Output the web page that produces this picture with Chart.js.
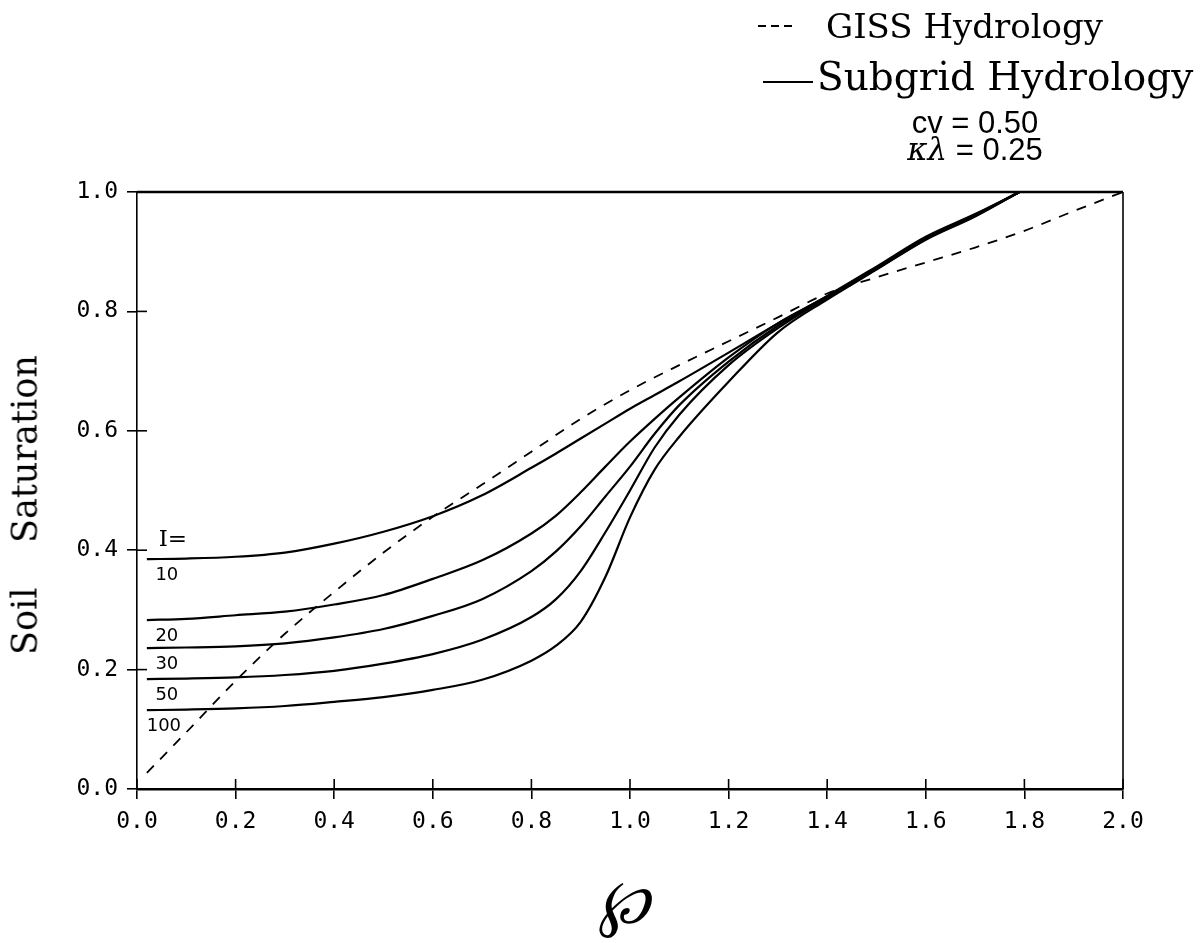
<!DOCTYPE html>
<html>
<head>
<meta charset="utf-8">
<script src="https://cdn.jsdelivr.net/npm/chart.js@4.4.1/dist/chart.umd.min.js"></script>
<style>
  html, body { margin: 0; padding: 0; background: #fff; }
  #wrap { position: relative; width: 1201px; height: 943px; overflow: hidden; }
  #chart { position: absolute; left: 0; top: 0; }
  .txt { position: absolute; color: #000; white-space: pre; line-height: 1; }
  .serif { font-family: "DejaVu Serif", serif; }
  .sans { font-family: "Liberation Sans", Arial, sans-serif; }
  .dashkey { position: absolute; height: 2px;
             background: repeating-linear-gradient(to right, #000 0 8px, transparent 8px 13px); }
</style>
</head>
<body>
<div id="wrap">
  <canvas id="chart" width="1201" height="943"></canvas>

  <!-- legend -->
  <div class="dashkey" style="left:758px; top:25px; width:34px;"></div>
  <div class="txt serif" style="left:826px; top:9px; font-size:34px;">GISS Hydrology</div>
  <div class="txt" style="left:763px; top:81px; width:50px; border-top:2px solid #000;"></div>
  <div class="txt serif" style="left:817px; top:57px; font-size:39px;">Subgrid Hydrology</div>

  <!-- parameters -->
  <div class="txt sans" style="left:875px; top:107px; width:200px; text-align:center; font-size:31px;">cv = 0.50</div>
  <div class="txt sans" style="left:875px; top:134px; width:200px; text-align:center; font-size:31px;"><span class="serif" style="font-style:italic;">κλ</span> = 0.25</div>

  <!-- axis titles -->
  <div class="txt serif" style="left:25px; top:505px; font-size:35px; transform:translate(-50%,-50%) rotate(-90deg);">Soil    Saturation</div>
  <div class="txt serif" style="left:624px; top:902px; font-size:62px; font-style:italic; transform:translate(-50%,-50%);">℘</div>
</div>

<script>
// Normalised precipitation values at which the subgrid curves are sampled
const phi = [0.02, 0.1, 0.2, 0.3, 0.4, 0.5, 0.6, 0.7, 0.8, 0.85, 0.9, 0.95, 1.0, 1.05, 1.1, 1.2, 1.3, 1.4, 1.5, 1.6, 1.7, 1.79];

// Subgrid hydrology: soil saturation for each intensity I
const satI10  = [0.385, 0.386, 0.389, 0.396, 0.411, 0.431, 0.457, 0.492, 0.538, 0.562, 0.587, 0.612, 0.637, 0.660, 0.683, 0.731, 0.780, 0.826, 0.875, 0.925, 0.963, 1.0];
const satI20  = [0.283, 0.285, 0.291, 0.297, 0.309, 0.325, 0.352, 0.383, 0.428, 0.458, 0.497, 0.540, 0.582, 0.620, 0.656, 0.723, 0.780, 0.825, 0.873, 0.923, 0.962, 1.0];
const satI30  = [0.236, 0.237, 0.239, 0.244, 0.254, 0.268, 0.290, 0.318, 0.365, 0.398, 0.440, 0.490, 0.540, 0.595, 0.643, 0.716, 0.776, 0.824, 0.872, 0.922, 0.961, 1.0];
const satI50  = [0.184, 0.185, 0.187, 0.191, 0.198, 0.210, 0.226, 0.250, 0.288, 0.318, 0.365, 0.430, 0.500, 0.572, 0.627, 0.710, 0.772, 0.823, 0.871, 0.921, 0.960, 1.0];
const satI100 = [0.132, 0.133, 0.135, 0.139, 0.146, 0.154, 0.166, 0.183, 0.215, 0.240, 0.280, 0.355, 0.455, 0.535, 0.590, 0.682, 0.765, 0.820, 0.870, 0.920, 0.959, 1.0];
const intensityLabels = ['10', '20', '30', '50', '100'];

// GISS hydrology reference curve
const gissPhi = [0.02, 0.1, 0.2, 0.3, 0.4, 0.5, 0.6, 0.7, 0.8, 0.9, 1.0, 1.1, 1.2, 1.3, 1.4, 1.5, 1.6, 1.7, 1.8, 1.9, 2.0];
const gissSat = [0.027, 0.095, 0.181, 0.260, 0.330, 0.396, 0.456, 0.510, 0.565, 0.620, 0.668, 0.710, 0.750, 0.790, 0.830, 0.857, 0.882, 0.907, 0.935, 0.968, 1.0];

// Axis ticks
const xTicks = [0.0, 0.2, 0.4, 0.6, 0.8, 1.0, 1.2, 1.4, 1.6, 1.8, 2.0];
const yTicks = [0.0, 0.2, 0.4, 0.6, 0.8, 1.0];

const toPoints = (xs, ys) => xs.map((x, i) => ({ x: x, y: ys[i] }));
const subgridSeries = [satI10, satI20, satI30, satI50, satI100];

const solidStyle = {
  borderColor: '#000', borderWidth: 2.2, pointRadius: 0,
  cubicInterpolationMode: 'monotone', fill: false
};

const datasets = subgridSeries.map((ys, i) => Object.assign({
  label: 'I = ' + intensityLabels[i],
  data: toPoints(phi, ys)
}, solidStyle));

datasets.push({
  label: 'GISS Hydrology',
  data: toPoints(gissPhi, gissSat),
  borderColor: '#000', borderWidth: 1.8, borderDash: [10, 9],
  pointRadius: 0, cubicInterpolationMode: 'monotone', fill: false
});

// Closes the frame, adds the inward half of each tick and labels the curves
const frameAndLabels = {
  id: 'frameAndLabels',
  afterDraw(chart) {
    const { ctx, chartArea: a, scales: { x, y } } = chart;
    ctx.save();
    ctx.strokeStyle = '#000';
    ctx.lineCap = 'butt';

    ctx.lineWidth = 2.5;
    ctx.beginPath(); ctx.moveTo(a.left, a.top); ctx.lineTo(a.right, a.top); ctx.stroke();
    ctx.lineWidth = 1.6;
    ctx.beginPath(); ctx.moveTo(a.right, a.top); ctx.lineTo(a.right, a.bottom); ctx.stroke();

    ctx.lineWidth = 1.6;
    xTicks.forEach(v => {
      const px = x.getPixelForValue(v);
      ctx.beginPath(); ctx.moveTo(px, a.bottom); ctx.lineTo(px, a.bottom - 10); ctx.stroke();
    });
    yTicks.forEach(v => {
      const py = y.getPixelForValue(v);
      ctx.beginPath(); ctx.moveTo(a.left, py); ctx.lineTo(a.left + 10, py); ctx.stroke();
    });

    // "I=" above the first curve, intensity values beneath each curve start
    ctx.fillStyle = '#000';
    ctx.textAlign = 'center';
    ctx.textBaseline = 'middle';
    const x0 = x.getPixelForValue(phi[0]);
    ctx.font = '23px "DejaVu Serif"';
    ctx.fillText('I=', x0 + 26, y.getPixelForValue(satI10[0]) - 19);
    ctx.font = '18px "DejaVu Sans"';
    subgridSeries.forEach((ys, i) => {
      const label = intensityLabels[i];
      const dx = label.length > 2 ? 17 : 20;
      ctx.fillText(label, x0 + dx, y.getPixelForValue(ys[0]) + 16);
    });
    ctx.restore();
  }
};

const tickFont = { family: '"DejaVu Sans Mono", monospace', size: 23 };

new Chart(document.getElementById('chart'), {
  type: 'line',
  data: { datasets: datasets },
  options: {
    responsive: false,
    animation: false,
    layout: { padding: { top: 192, right: 78, left: 0, bottom: 0 } },
    plugins: { legend: { display: false }, tooltip: { enabled: false } },
    scales: {
      x: {
        type: 'linear', min: 0, max: 2,
        afterBuildTicks: s => { s.ticks = xTicks.map(v => ({ value: v })); },
        afterFit: s => { s.height = 154; },
        ticks: { font: tickFont, color: '#000', padding: 9, maxRotation: 0,
                 callback: v => Number(v).toFixed(1) },
        grid: { display: true, drawOnChartArea: false, drawTicks: true, tickLength: 10,
                color: '#000', lineWidth: 1.6 },
        border: { display: true, color: '#000', width: 2.6 }
      },
      y: {
        type: 'linear', min: 0, max: 1,
        afterBuildTicks: s => { s.ticks = yTicks.map(v => ({ value: v })); },
        afterFit: s => { s.width = 137; },
        ticks: { font: tickFont, color: '#000', padding: 9,
                 callback: v => Number(v).toFixed(1) },
        grid: { display: true, drawOnChartArea: false, drawTicks: true, tickLength: 10,
                color: '#000', lineWidth: 1.6 },
        border: { display: true, color: '#000', width: 1.6 }
      }
    }
  },
  plugins: [frameAndLabels]
});
</script>
</body>
</html>
